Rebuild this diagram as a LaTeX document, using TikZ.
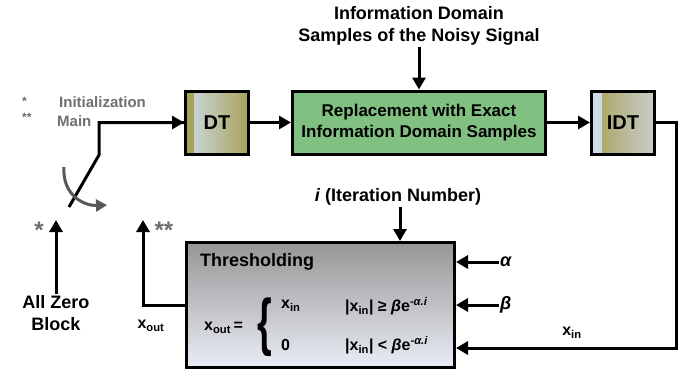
\documentclass[tikz,border=0pt]{standalone}
\usepackage{fontspec}
\setmainfont{Liberation Sans}
\usetikzlibrary{arrows.meta,positioning}

\definecolor{oliv}{RGB}{168,162,92}
\definecolor{hellblau}{RGB}{206,218,230}
\definecolor{grausilber}{RGB}{200,206,204}
\definecolor{gruen}{RGB}{128,192,128}
\definecolor{schiefer}{RGB}{150,150,150}
\definecolor{nebel}{RGB}{234,237,246}
\definecolor{legende}{RGB}{110,110,110}
\definecolor{schalter}{RGB}{88,88,88}

\newcommand{\xsub}[1]{x\textsubscript{#1}}

\begin{document}
\begin{tikzpicture}[x=1pt,y=-1pt,
      block/.style={rectangle, draw=black, line width=3pt, align=center, font=\fontsize{17}{21}\selectfont\bfseries},
      label/.style={align=center, inner sep=1pt, font=\fontsize{18}{22}\selectfont\bfseries},
      formel/.style={anchor=west, inner sep=0pt, font=\fontsize{16}{18}\selectfont\bfseries},
      grau/.style={anchor=west, inner sep=0pt, text=legende, font=\fontsize{15}{17}\selectfont\bfseries},
      pfeil/.style={-{Triangle[length=12pt,width=13pt]}, line width=3pt}]

\useasboundingbox (0,0) rectangle (697,373);

% obere Kette
\node[block, minimum width=63pt, minimum height=63pt, font=\fontsize{20}{22}\selectfont\bfseries,
      left color=hellblau, right color=oliv,
      path picture={\fill[oliv] (path picture bounding box.north west) rectangle ([xshift=8pt]path picture bounding box.south west);}]
      (dt) at (217,122.5) {DT};
\node[block, minimum width=253pt, minimum height=63pt, fill=gruen] (ersatz) at (419,122.5)
      {Replacement with Exact\\Information Domain Samples};
\node[block, minimum width=63pt, minimum height=63pt, font=\fontsize{20}{22}\selectfont\bfseries,
      left color=oliv, right color=grausilber,
      path picture={\fill[hellblau] (path picture bounding box.north west) rectangle ([xshift=10pt]path picture bounding box.south west);}]
      (idt) at (623,122.5) {IDT};
\node[label] (rausch) at (419,26) {Information Domain\\Samples of the Noisy Signal};

% Schwellwert-Block
\node[block, minimum width=268pt, minimum height=125pt, top color=schiefer, bottom color=nebel] (thr) at (320.5,305) {};
\node[formel, font=\fontsize{18}{20}\selectfont\bfseries] (thrtitel) at (200,262) {Thresholding};
\node[formel] (xout) at (204,328) {\xsub{out}\,=};
\node[anchor=center, inner sep=0pt] (klammer) at (265,327) {\scalebox{1.05}[1.75]{\fontsize{36}{36}\selectfont\bfseries\{}};
\node[formel] (fall1) at (281,306) {\xsub{in}};
\node[formel] (fall2) at (281,345) {0};
\node[formel] (bed1) at (345,306) {|\xsub{in}| ≥ \textit{β}e\textsuperscript{-\textit{α.i}}};
\node[formel] (bed2) at (345,345) {|\xsub{in}| < \textit{β}e\textsuperscript{-\textit{α.i}}};

% Eingaenge rechts
\node[label] (iter) at (398,197) {\textit{i} (Iteration Number)};
\node[label, anchor=west, font=\fontsize{18}{22}\selectfont\bfseries\itshape] (alpha) at (499,262) {α};
\node[label, anchor=west, font=\fontsize{18}{22}\selectfont\bfseries\itshape] (beta) at (499,305) {β};
\node[formel, anchor=center] (xin) at (572,333) {\xsub{in}};
\coordinate (ecke) at (676,348);

% Schalter links
\node[label] (null) at (56,313) {All Zero\\Block};
\node[label, text=legende, font=\fontsize{24}{24}\selectfont\bfseries] (stern1) at (39,230) {*};
\node[label, text=legende, font=\fontsize{24}{24}\selectfont\bfseries] (stern2) at (164,230) {**};
\node[formel, anchor=center] (xoutlab) at (151,326) {\xsub{out}};
\coordinate (init) at (56,220);
\coordinate (haupt) at (143,220);
\coordinate (s0) at (69,207);
\coordinate (s1) at (99,155);

% Legende
\node[grau, font=\fontsize{12}{13}\selectfont\bfseries] (leg1) at (22,101) {*};
\node[grau] (legtxt1) at (59,102) {Initialization};
\node[grau, font=\fontsize{12}{13}\selectfont\bfseries] (leg2) at (22,117) {**};
\node[grau] (legtxt2) at (57,121) {Main};

\draw[pfeil] (rausch) -- (ersatz);
\draw[pfeil] (dt) -- (ersatz);
\draw[pfeil] (ersatz) -- (idt);
\draw[pfeil] (idt.east) -| (ecke) -- (ecke -| thr.east);
\draw[pfeil] ([xshift=2pt]iter.south) -- ([xshift=2pt]iter.south |- thr.north);
\draw[pfeil] (alpha.west) -- (alpha.west -| thr.east);
\draw[pfeil] (beta.west) -- (beta.west -| thr.east);
\draw[pfeil] (thr.west) -| (haupt);
\draw[pfeil] (null.north) -- (init);
\draw[line width=3pt] (s0) -- (s1) |- (dt.west);
\draw[pfeil] (s1 |- dt.west) -- (dt.west);
\draw[-{Triangle[length=11pt,width=12pt]}, line width=3pt, schalter] (64,167) .. controls (62,195) and (84,206) .. (107,205);

\end{tikzpicture}
\end{document}
